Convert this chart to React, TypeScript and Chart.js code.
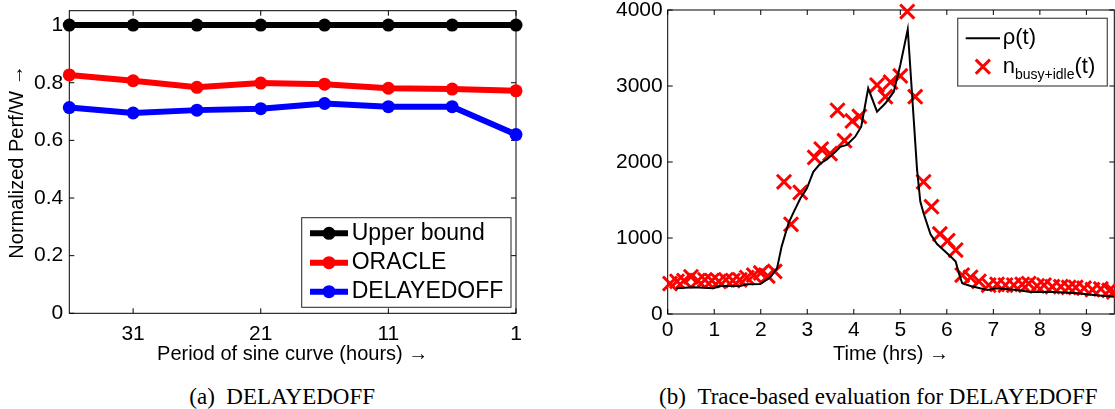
import React, { useEffect, useRef } from 'react';
import { Chart, registerables } from 'chart.js';

Chart.register(...registerables);

const FONT = "'Liberation Sans', Arial, Helvetica, sans-serif";
const SERIF = "'Liberation Serif', 'Times New Roman', Times, serif";

// ---------- (a) DELAYEDOFF ----------
const periods = [36, 31, 26, 21, 16, 11, 6, 1];
const upperBound = [1, 1, 1, 1, 1, 1, 1, 1];
const oracle = [0.827, 0.807, 0.784, 0.799, 0.795, 0.781, 0.778, 0.772];
const delayedOff = [0.714, 0.695, 0.705, 0.71, 0.728, 0.717, 0.717, 0.62];
const periodTicks = [31, 21, 11, 1];
const perfTicks = [0, 0.2, 0.4, 0.6, 0.8, 1];
const perfTickLabels = ['0', '0.2', '0.4', '0.6', '0.8', '1'];

// ---------- (b) Trace-based evaluation ----------
const rhoTimes = [0.18, 0.55, 0.98, 1.13, 1.56, 1.7, 1.99, 2.2, 2.35, 2.45, 2.6, 2.7, 2.85, 2.99, 3.13, 3.28, 3.42, 3.6, 3.71, 3.85, 4.03, 4.16, 4.31, 4.5, 4.68, 4.86, 5.0, 5.16, 5.36, 5.43, 5.5, 5.65, 5.79, 5.97, 6.11, 6.19, 6.26, 6.33, 6.51, 6.87, 7.08, 7.51, 7.8, 8.23, 8.81, 9.16, 9.6];
const rhoValues = [340, 352, 338, 368, 368, 392, 395, 480, 600, 890, 1200, 1330, 1520, 1650, 1870, 1980, 2035, 2130, 2200, 2224, 2333, 2465, 2970, 2662, 2772, 2925, 3276, 3746, 1900, 1480, 1325, 1050, 920, 820, 740, 690, 535, 404, 368, 316, 338, 316, 290, 293, 272, 250, 228];
const nTimes = [0.05, 0.2, 0.35, 0.5, 0.65, 0.8, 0.95, 1.1, 1.25, 1.4, 1.55, 1.7, 1.85, 2.0, 2.15, 2.3, 2.5, 2.65, 2.85, 3.16, 3.3, 3.49, 3.65, 3.8, 3.97, 4.12, 4.5, 4.68, 4.79, 5.0, 5.15, 5.32, 5.5, 5.67, 5.85, 6.02, 6.19, 6.33, 6.51, 6.69, 6.9, 7.08, 7.26, 7.44, 7.62, 7.76, 7.94, 8.09, 8.27, 8.45, 8.62, 8.77, 8.95, 9.13, 9.31, 9.49, 9.59];
const nValues = [400, 430, 440, 490, 440, 450, 440, 430, 450, 440, 450, 480, 510, 540, 500, 560, 1740, 1180, 1600, 2060, 2170, 2110, 2680, 2280, 2540, 2600, 3013, 2860, 3050, 3132, 3980, 2860, 1740, 1412, 1053, 965, 842, 513, 482, 430, 380, 390, 380, 380, 390, 400, 370, 380, 360, 360, 350, 350, 340, 320, 330, 310, 290];
const hourTicks = [0, 1, 2, 3, 4, 5, 6, 7, 8, 9];
const countTicks = [0, 1000, 2000, 3000, 4000];

const toXY = (xs: number[], ys: number[]) => xs.map((x, i) => ({ x, y: ys[i] }));

// Box frame with inward tick marks on all four sides
const framePlugin = {
  id: 'frameBox',
  beforeDatasetsDraw(chart: any) {
    const { ctx, chartArea: a, scales } = chart;
    const tl = 5;
    ctx.save();
    ctx.strokeStyle = '#000';
    ctx.lineWidth = 1;
    ctx.strokeRect(a.left, a.top, a.right - a.left, a.bottom - a.top);
    ctx.beginPath();
    for (const t of scales.x.ticks) {
      const px = scales.x.getPixelForValue(t.value);
      ctx.moveTo(px, a.bottom);
      ctx.lineTo(px, a.bottom - tl);
      ctx.moveTo(px, a.top);
      ctx.lineTo(px, a.top + tl);
    }
    for (const t of scales.y.ticks) {
      const py = scales.y.getPixelForValue(t.value);
      ctx.moveTo(a.left, py);
      ctx.lineTo(a.left + tl, py);
      ctx.moveTo(a.right, py);
      ctx.lineTo(a.right - tl, py);
    }
    ctx.stroke();
    ctx.restore();
  },
};

// Boxed legend drawn inside the plot area
const boxLegendPlugin = {
  id: 'boxLegend',
  afterDraw(chart: any, _args: any, opts: any) {
    if (!opts || !opts.width) return;
    const { ctx, chartArea: a } = chart;
    const x0 = a.right - opts.insetX - opts.width;
    const y0 = opts.anchor === 'bottomRight' ? a.bottom - opts.insetY - opts.height : a.top + opts.insetY;
    ctx.save();
    ctx.fillStyle = '#fff';
    ctx.fillRect(x0, y0, opts.width, opts.height);
    ctx.strokeStyle = opts.borderColor || '#000';
    ctx.lineWidth = opts.borderWidth || 1;
    ctx.strokeRect(x0, y0, opts.width, opts.height);
    chart.data.datasets.forEach((ds: any, i: number) => {
      const y = y0 + opts.rows[i];
      const sx0 = x0 + opts.sampleX[0];
      const sx1 = x0 + opts.sampleX[1];
      const mx = (sx0 + sx1) / 2;
      const color = ds.borderColor;
      if (ds.showLine !== false) {
        ctx.strokeStyle = color;
        ctx.lineWidth = ds.borderWidth;
        ctx.beginPath();
        ctx.moveTo(sx0, y);
        ctx.lineTo(sx1, y);
        ctx.stroke();
      }
      if (ds.pointRadius > 0) {
        if (ds.pointStyle === 'crossRot') {
          const o = Math.cos(Math.PI / 4) * ds.pointRadius;
          ctx.strokeStyle = ds.pointBorderColor;
          ctx.lineWidth = ds.pointBorderWidth;
          ctx.beginPath();
          ctx.moveTo(mx - o, y - o);
          ctx.lineTo(mx + o, y + o);
          ctx.moveTo(mx - o, y + o);
          ctx.lineTo(mx + o, y - o);
          ctx.stroke();
        } else {
          ctx.fillStyle = ds.pointBackgroundColor;
          ctx.beginPath();
          ctx.arc(mx, y, ds.pointRadius, 0, Math.PI * 2);
          ctx.fill();
        }
      }
      const parts = ds.legendParts || [{ text: ds.label }];
      let tx = x0 + opts.textX;
      ctx.fillStyle = '#000';
      ctx.textBaseline = 'middle';
      ctx.textAlign = 'left';
      for (const p of parts) {
        const size = p.sub ? opts.subSize : opts.fontSize;
        ctx.font = `${size}px ${FONT}`;
        ctx.fillText(p.text, tx, y + (p.sub ? opts.subShift : 0));
        tx += ctx.measureText(p.text).width;
      }
    });
    ctx.restore();
  },
};

const tickFont = { family: FONT, size: 21, lineHeight: 1.2 };
const titleFont = { family: FONT, size: 20, lineHeight: 1.2 };

const fixX = (h: number) => (s: any) => {
  s.height = h;
  s.paddingLeft = 0;
  s.paddingRight = 0;
};
const fixY = (w: number) => (s: any) => {
  s.width = w;
  s.paddingTop = 0;
  s.paddingBottom = 0;
};

function PerfChart() {
  const ref = useRef<HTMLCanvasElement>(null);
  useEffect(() => {
    const mk = (label: string, values: number[], color: string) => ({
      label,
      data: toXY(periods, values),
      borderColor: color,
      backgroundColor: color,
      borderWidth: 6,
      pointRadius: 6.5,
      pointBackgroundColor: color,
      pointBorderColor: color,
      pointBorderWidth: 0,
      clip: false,
    });
    const chart = new Chart(ref.current as HTMLCanvasElement, {
      type: 'line',
      data: {
        datasets: [
          mk('Upper bound', upperBound, '#000000'),
          mk('ORACLE', oracle, '#ff0000'),
          mk('DELAYEDOFF', delayedOff, '#0000ff'),
        ] as any,
      },
      options: {
        responsive: false,
        animation: false,
        events: [],
        layout: { autoPadding: false, padding: { left: 0, top: 10.7, right: 29, bottom: 0 } },
        scales: {
          x: {
            type: 'linear',
            reverse: true,
            min: 1,
            max: 36,
            afterBuildTicks: (s: any) => {
              s.ticks = periodTicks.map((v) => ({ value: v }));
            },
            afterFit: fixX(56.7),
            grid: { display: false, drawTicks: false },
            border: { display: false },
            ticks: {
              font: tickFont,
              color: '#000',
              padding: 8.5,
              maxRotation: 0,
              autoSkip: false,
              callback: (v: any) => String(v),
            },
            title: {
              display: true,
              text: 'Period of sine curve (hours) →',
              font: titleFont,
              color: '#000',
              padding: { top: 0, bottom: 4 },
            },
          },
          y: {
            type: 'linear',
            min: 0,
            max: 1.05,
            afterBuildTicks: (s: any) => {
              s.ticks = perfTicks.map((v) => ({ value: v }));
            },
            afterFit: fixY(69.3),
            grid: { display: false, drawTicks: false },
            border: { display: false },
            ticks: {
              font: tickFont,
              color: '#000',
              padding: 6,
              autoSkip: false,
              callback: (_v: any, i: number) => perfTickLabels[i],
            },
            title: {
              display: true,
              text: 'Normalized Perf/W →',
              font: titleFont,
              color: '#000',
              padding: { top: 5, bottom: 0 },
            },
          },
        },
        plugins: {
          legend: { display: false },
          tooltip: { enabled: false },
          boxLegend: {
            anchor: 'bottomRight',
            insetX: 5,
            insetY: 6,
            width: 209.3,
            height: 89.6,
            rows: [15.6, 45, 74],
            sampleX: [8.3, 46.3],
            textX: 50,
            fontSize: 23,
            subSize: 15,
            subShift: 7,
            borderColor: '#222',
            borderWidth: 1,
          },
        } as any,
      },
      plugins: [framePlugin, boxLegendPlugin],
    } as any);
    return () => chart.destroy();
  }, []);
  return (
    <canvas
      ref={ref}
      width={545}
      height={370}
      style={{ position: 'absolute', left: 0, top: 0, width: 545, height: 370 }}
    />
  );
}

function TraceChart() {
  const ref = useRef<HTMLCanvasElement>(null);
  useEffect(() => {
    const chart = new Chart(ref.current as HTMLCanvasElement, {
      type: 'line',
      data: {
        datasets: [
          {
            label: 'ρ(t)',
            data: toXY(rhoTimes, rhoValues),
            borderColor: '#000000',
            borderWidth: 2,
            pointRadius: 0,
            tension: 0,
            fill: false,
          },
          {
            label: 'n_busy+idle(t)',
            legendParts: [{ text: 'n' }, { text: 'busy+idle', sub: true }, { text: '(t)' }],
            data: toXY(nTimes, nValues),
            showLine: false,
            borderColor: '#ff0000',
            pointStyle: 'crossRot',
            pointRadius: 10,
            pointBorderWidth: 3,
            pointBorderColor: '#ff0000',
            pointBackgroundColor: '#ff0000',
            clip: false,
          },
        ] as any,
      },
      options: {
        responsive: false,
        animation: false,
        events: [],
        layout: { autoPadding: false, padding: { left: 0, top: 10, right: 0.7, bottom: 0 } },
        scales: {
          x: {
            type: 'linear',
            min: 0,
            max: 9.6,
            afterBuildTicks: (s: any) => {
              s.ticks = hourTicks.map((v) => ({ value: v }));
            },
            afterFit: fixX(56),
            grid: { display: false, drawTicks: false },
            border: { display: false },
            ticks: {
              font: tickFont,
              color: '#000',
              padding: 4,
              maxRotation: 0,
              autoSkip: false,
              callback: (v: any) => String(v),
            },
            title: {
              display: true,
              text: 'Time (hrs) →',
              font: titleFont,
              color: '#000',
              padding: { top: 0, bottom: 4 },
            },
          },
          y: {
            type: 'linear',
            min: 0,
            max: 4000,
            afterBuildTicks: (s: any) => {
              s.ticks = countTicks.map((v) => ({ value: v }));
            },
            afterFit: fixY(107.7),
            grid: { display: false, drawTicks: false },
            border: { display: false },
            ticks: {
              font: tickFont,
              color: '#000',
              padding: 5,
              autoSkip: false,
              callback: (v: any) => String(v),
            },
          },
        },
        plugins: {
          legend: { display: false },
          tooltip: { enabled: false },
          boxLegend: {
            anchor: 'topRight',
            insetX: 7,
            insetY: 8.3,
            width: 149.6,
            height: 67.7,
            rows: [20, 48.4],
            sampleX: [8, 42.3],
            textX: 45,
            fontSize: 22,
            subSize: 14,
            subShift: 8,
            borderColor: '#555',
            borderWidth: 1.3,
          },
        } as any,
      },
      plugins: [framePlugin, boxLegendPlugin],
    } as any);
    return () => chart.destroy();
  }, []);
  return (
    <canvas
      ref={ref}
      width={555}
      height={370}
      style={{ position: 'absolute', left: 560, top: 0, width: 555, height: 370 }}
    />
  );
}

const captionStyle = (center: number): React.CSSProperties => ({
  position: 'absolute',
  left: center - 300,
  width: 600,
  top: 384.7,
  textAlign: 'center',
  fontFamily: SERIF,
  fontSize: 23,
  lineHeight: '23px',
  color: '#000',
  whiteSpace: 'pre',
});

export default function App() {
  return (
    <div
      style={{
        position: 'fixed',
        left: 0,
        top: 0,
        width: 1115,
        height: 409,
        background: '#fff',
        overflow: 'hidden',
      }}
    >
      <PerfChart />
      <TraceChart />
      <div style={captionStyle(282.2)}>{'(a)\u2002DELAYEDOFF'}</div>
      <div style={captionStyle(878.3)}>{'(b)\u2002Trace-based evaluation for DELAYEDOFF'}</div>
    </div>
  );
}
